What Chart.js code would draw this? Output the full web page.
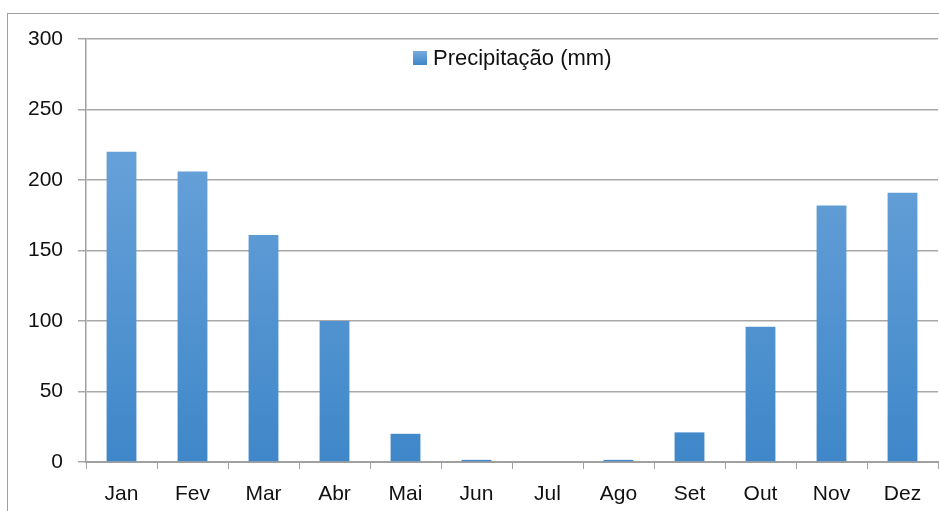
<!DOCTYPE html>
<html>
<head>
<meta charset="utf-8">
<script src="https://cdn.jsdelivr.net/npm/chart.js@4"></script>
<style>
  html, body { margin: 0; padding: 0; background: #fff; }
  #wrap { position: relative; width: 939px; height: 511px; overflow: hidden; }
  #frame { position: absolute; left: 7px; top: 13px; width: 1000px; height: 600px; border: 1px solid #a0a0a0; box-sizing: border-box; }
  canvas { position: absolute; left: 0; top: 0; }
</style>
</head>
<body>
<div id="wrap">
  <div id="frame"></div>
  <canvas id="chart" width="939" height="511"></canvas>
</div>
<script>
const months = ['Jan', 'Fev', 'Mar', 'Abr', 'Mai', 'Jun', 'Jul', 'Ago', 'Set', 'Out', 'Nov', 'Dez']
const rainfall = [220, 206, 161, 100, 20, 1.5, 0, 1.5, 21, 96, 182, 191]
const seriesLabel = 'Precipitação (mm)'

const FONT = '"Liberation Sans", Arial, sans-serif'

// vertical gradient like the original spreadsheet bars
function barGradient(context) {
  const chart = context.chart
  const area = chart.chartArea
  if (!area) return '#5b9bd5'
  const g = chart.ctx.createLinearGradient(0, area.top, 0, area.bottom)
  g.addColorStop(0, '#75aade')
  g.addColorStop(1, '#3f87c9')
  return g
}

// legend drawn inside the plot area, top centre
const insideLegend = {
  id: 'insideLegend',
  afterDraw(chart) {
    const ctx = chart.ctx
    const label = chart.data.datasets[0].label
    ctx.save()
    ctx.font = '22px ' + FONT
    const x = 413
    const y = 58
    const grad = ctx.createLinearGradient(0, y - 7, 0, y + 7)
    grad.addColorStop(0, '#75aade')
    grad.addColorStop(1, '#3f87c9')
    ctx.fillStyle = grad
    ctx.fillRect(x, y - 7, 14, 14)
    ctx.fillStyle = '#111'
    ctx.textBaseline = 'middle'
    ctx.fillText(label, x + 20, y + 1)
    ctx.restore()
  }
}

new Chart(document.getElementById('chart'), {
  type: 'bar',
  data: {
    labels: months,
    datasets: [{
      label: seriesLabel,
      data: rainfall,
      backgroundColor: barGradient,
      barPercentage: 0.6,
      categoryPercentage: 0.7
    }]
  },
  options: {
    responsive: false,
    animation: false,
    layout: { padding: { top: 39, right: 1, left: 0, bottom: 0 } },
    plugins: {
      legend: { display: false },
      tooltip: { enabled: false }
    },
    scales: {
      x: {
        grid: {
          offset: true,
          drawOnChartArea: false,
          drawTicks: true,
          tickLength: 7,
          color: '#a0a0a0',
          lineWidth: 1
        },
        border: { color: '#a0a0a0', width: 2 },
        ticks: { color: '#111', font: { family: FONT, size: 21 }, padding: 13 },
        afterFit(scale) { scale.height = 49 }
      },
      y: {
        min: 0,
        max: 300,
        ticks: { stepSize: 50, color: '#111', font: { family: FONT, size: 21 }, padding: 15 },
        grid: { color: '#a8a8a8', lineWidth: 1.5, tickLength: 8 },
        border: { color: '#a0a0a0', width: 1.5 },
        afterFit(scale) { scale.width = 86 }
      }
    }
  },
  plugins: [insideLegend]
})
</script>
</body>
</html>
